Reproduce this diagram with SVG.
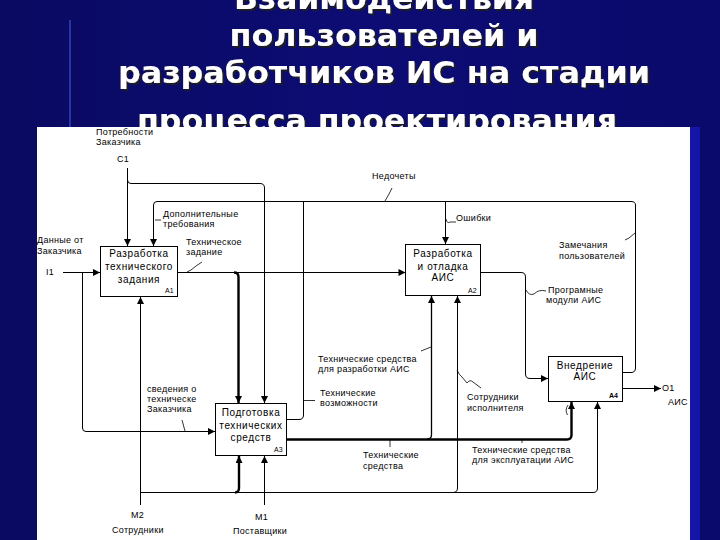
<svg xmlns="http://www.w3.org/2000/svg" width="720" height="540" viewBox="0 0 720 540">
<defs>
<linearGradient id="bg" x1="0" y1="0" x2="1" y2="0">
<stop offset="0" stop-color="#0a0a62"/>
<stop offset="0.5" stop-color="#0c0c74"/>
<stop offset="1" stop-color="#0a0a6c"/>
</linearGradient>
<filter id="sh" x="-5%" y="-20%" width="110%" height="150%">
<feDropShadow dx="2" dy="2" stdDeviation="0.6" flood-color="#1a1a1a" flood-opacity="0.9"/>
</filter>
<marker id="ar" viewBox="0 0 8 8" refX="8" refY="4" markerWidth="8" markerHeight="7" markerUnits="userSpaceOnUse" orient="auto">
<path d="M0,0 L8,4 L0,8 Z" fill="#000"/>
</marker>
</defs>
<style>
.t{font-family:"DejaVu Sans","Liberation Sans",sans-serif;font-weight:bold;font-size:30px;text-anchor:middle;fill:#ffffff}
.lb{font-family:"Liberation Sans",Arial,sans-serif;font-size:9px;letter-spacing:0.3px;fill:#000}
.bx{font-family:"Liberation Sans",Arial,sans-serif;font-size:10px;letter-spacing:0.6px;fill:#000;text-anchor:middle}
.nm{font-family:"Liberation Sans",Arial,sans-serif;font-size:7px;fill:#000}
.box{fill:#fff;stroke:#000;stroke-width:1}
.c{fill:none;stroke:#000;stroke-width:1}
.cb{fill:none;stroke:#000;stroke-width:2.4}
.tk{fill:none;stroke:#000;stroke-width:0.8}
</style>
<rect x="0" y="0" width="720" height="540" fill="url(#bg)"/>
<line x1="70" y1="20" x2="70" y2="127" stroke="#3d5ad8" stroke-width="2" opacity="0.55"/>
<rect x="690" y="127" width="10" height="413" fill="#1515a8"/>
<g id="title" filter="url(#sh)">
<text class="t" x="384" y="9" textLength="300" lengthAdjust="spacingAndGlyphs">Взаимодействия</text>
<text class="t" x="384" y="46" textLength="309" lengthAdjust="spacingAndGlyphs">пользователей и</text>
<text class="t" x="384" y="83" textLength="532" lengthAdjust="spacingAndGlyphs">разработчиков ИС на стадии</text>
<text class="t" x="377" y="131" textLength="480" lengthAdjust="spacingAndGlyphs">процесса проектирования</text>
</g>
<rect x="37" y="127" width="653" height="413" fill="#fff"/>
<g id="connectors">
<path class="c" d="M127.5,168 V246" marker-end="url(#ar)"/>
<path class="c" d="M127.5,180 Q127.5,183.5 131,183.5 H260 Q264.5,183.5 264.5,188 V403" marker-end="url(#ar)"/>
<path class="c" d="M623,372.5 H631 Q635.5,372.5 635.5,368 V205 Q635.5,201.5 631,201.5 H157 Q153.5,201.5 153.5,205 V246" marker-end="url(#ar)"/>
<path class="c" d="M445.5,201.5 V244" marker-end="url(#ar)"/>
<path class="c" d="M287,419.5 H299 Q303.5,419.5 303.5,415 V201.5"/>
<path class="c" d="M178,272.5 H405.5" marker-end="url(#ar)"/>
<path class="cb" d="M234,272.5 Q238.5,272.5 238.5,277 V403" marker-end="url(#ar)"/>
<path class="c" d="M63,272.5 H100" marker-end="url(#ar)"/>
<path class="c" d="M82.5,272.5 V428 Q82.5,431.5 86,431.5 H215" marker-end="url(#ar)"/>
<path class="c" d="M140.5,505 V297" marker-end="url(#ar)"/>
<path class="c" d="M140.5,492.5 H593 Q597.5,492.5 597.5,488 V402" marker-end="url(#ar)"/>
<path class="cb" d="M235,492.5 Q239,492.5 239,488 V456" marker-end="url(#ar)"/>
<path class="c" d="M264.5,505 V456" marker-end="url(#ar)"/>
<path class="c" d="M453,492.5 Q457.5,492.5 457.5,488 V296" marker-end="url(#ar)"/>
<path class="cb" d="M287,439.5 H567 Q571.5,439.5 571.5,435 V402" marker-end="url(#ar)"/>
<path class="c" style="stroke-width:1.3" d="M427,439 Q431.5,439 431.5,435 V296" marker-end="url(#ar)"/>
<path class="c" d="M481,272.5 H521 Q525.5,272.5 525.5,277 V374 Q525.5,378.5 530,378.5 H548" marker-end="url(#ar)"/>
<path class="c" d="M623,388.5 H661" marker-end="url(#ar)"/>
<path class="tk" d="M385,201 L389,194 L392,188"/>
<path class="tk" d="M446,219 Q447,224 450,222 H456"/>
<path class="tk" d="M155,220 H161"/>
<path class="tk" d="M187,272 L191,270 L196,266 L202,262"/>
<path class="tk" d="M526,290 Q529,296 534,294 Q539,289 546,291"/>
<path class="tk" d="M625,240 L629,238 L635,233"/>
<path class="tk" d="M431,347 L421,351"/>
<path class="tk" d="M303.5,400.5 H315"/>
<path class="tk" d="M457,370 Q459,375 462,377 L467,383 Q470,379 473,382 L481,388"/>
<path class="tk" d="M182,420 L185,431"/>
<path class="tk" d="M390,439 V447"/>
<path class="tk" d="M522,439 V443"/>
<path class="tk" d="M568,405 Q564.5,410 567.5,415"/>
</g>
<g id="A1">
<rect class="box" x="100.5" y="246.5" width="77" height="50"/>
<text class="bx" x="139" y="257">Разработка</text>
<text class="bx" x="139" y="270">технического</text>
<text class="bx" x="139" y="283">задания</text>
<text class="nm" x="165" y="293">A1</text>
</g>
<g id="A2">
<rect class="box" x="405.5" y="244.5" width="75" height="51"/>
<text class="bx" x="443" y="257">Разработка</text>
<text class="bx" x="443" y="270">и отладка</text>
<text class="bx" x="443" y="281">АИС</text>
<text class="nm" x="468" y="293">A2</text>
</g>
<g id="A3">
<rect class="box" x="215.5" y="403.5" width="71" height="52"/>
<text class="bx" x="251" y="416">Подготовка</text>
<text class="bx" x="251" y="429">технических</text>
<text class="bx" x="251" y="441">средств</text>
<text class="nm" x="274" y="452">A3</text>
</g>
<g id="A4">
<rect class="box" x="548.5" y="356.5" width="74" height="45"/>
<text class="bx" x="585" y="369">Внедрение</text>
<text class="bx" x="585" y="380">АИС</text>
<text class="nm" x="609" y="398" font-weight="bold">A4</text>
</g>
<g id="labels">
<text class="lb" x="96" y="135">Потребности</text>
<text class="lb" x="96" y="145">Заказчика</text>
<text class="lb" x="117" y="162">C1</text>
<text class="lb" x="37" y="243">Данные от</text>
<text class="lb" x="37" y="254">Заказчика</text>
<text class="lb" x="46" y="275">I1</text>
<text class="lb" x="163" y="217">Дополнительные</text>
<text class="lb" x="163" y="227">требования</text>
<text class="lb" x="186" y="245">Техническое</text>
<text class="lb" x="186" y="255">задание</text>
<text class="lb" x="372" y="179">Недочеты</text>
<text class="lb" x="456" y="221">Ошибки</text>
<text class="lb" x="559" y="248">Замечания</text>
<text class="lb" x="559" y="259">пользователей</text>
<text class="lb" x="548" y="293">Програмные</text>
<text class="lb" x="546" y="303">модули АИС</text>
<text class="lb" x="318" y="362">Технические средства</text>
<text class="lb" x="318" y="372">для разработки АИС</text>
<text class="lb" x="320" y="396">Технические</text>
<text class="lb" x="320" y="406">возможности</text>
<text class="lb" x="147" y="392">сведения о</text>
<text class="lb" x="147" y="402">техническе</text>
<text class="lb" x="147" y="412">Заказчика</text>
<text class="lb" x="467" y="400">Сотрудники</text>
<text class="lb" x="467" y="411">исполнителя</text>
<text class="lb" x="363" y="458">Технические</text>
<text class="lb" x="363" y="469">средства</text>
<text class="lb" x="472" y="453">Технические средства</text>
<text class="lb" x="472" y="463">для  эксплуатации АИС</text>
<text class="lb" x="662" y="391">O1</text>
<text class="lb" x="668" y="405">АИС</text>
<text class="lb" x="131" y="518">M2</text>
<text class="lb" x="112" y="533">Сотрудники</text>
<text class="lb" x="255" y="520">M1</text>
<text class="lb" x="233" y="534">Поставщики</text>
</g>
</svg>
